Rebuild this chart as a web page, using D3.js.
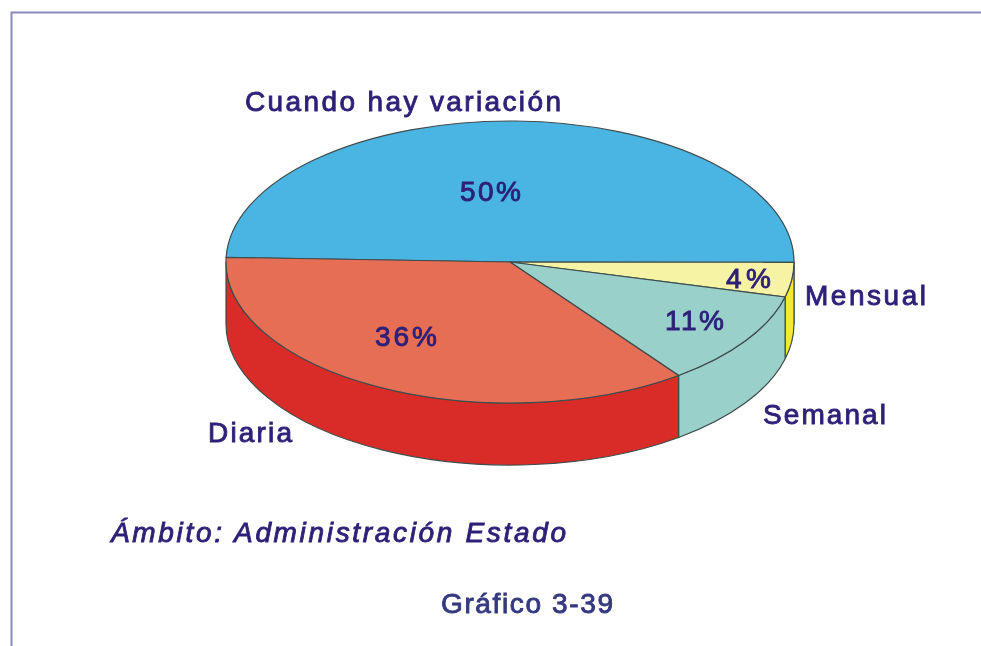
<!DOCTYPE html>
<html>
<head>
<meta charset="utf-8">
<script src="https://cdn.jsdelivr.net/npm/d3@7"></script>
<style>
  html, body { margin: 0; background: #fff; }
  svg { display: block; filter: blur(0.45px); }
  text { font-family: "Liberation Sans", Arial, sans-serif; }
</style>
</head>
<body>
<div id="chart"></div>
<script>
// Values as printed on the slices (they add up to 101)
const categories = ["Cuando hay variación", "Mensual", "Semanal", "Diaria"];
const shares = [50, 4, 11, 36];
const title = "Ámbito: Administración Estado";
const caption = "Gráfico 3-39";

const topColors = ["#4ab4e3", "#f7f3a5", "#99d0ca", "#e66e55"];
const sideColors = ["#3a9cc8", "#f2ea2e", "#99d0ca", "#d92b27"];

const width = 981, height = 646;
const cx = 510, cy = 262, rx = 284, ry = 141, depth = 62;
const ink = "#2e1f78", edge = "#3f4c4c";

// label placement, [x, y, width] of the text as it sits in the picture
const nameSpots = {
  "Cuando hay variación": [245, 111, 316],
  "Mensual": [805, 305, 121],
  "Semanal": [763, 424, 123],
  "Diaria": [208, 442, 84]
};
const shareSpots = {
  "Cuando hay variación": [460, 201, 61],
  "Mensual": [726, 288, 45],
  "Semanal": [665, 330, 59],
  "Diaria": [375, 346, 62]
};

const svg = d3.select("#chart").append("svg")
  .attr("width", width)
  .attr("height", height)
  .attr("viewBox", `0 0 ${width} ${height}`);

// frame, open on the right and at the bottom
svg.append("path")
  .attr("d", `M11.5,${height}V12.5H${width}`)
  .attr("fill", "none")
  .attr("stroke", "#8c8abb")
  .attr("stroke-width", 2);

const pie = d3.pie()
  .sort(null)
  .startAngle(-88.1 * Math.PI / 180)
  .endAngle((-88.1 + 360) * Math.PI / 180);

const slices = pie(shares).map((d, i) => ({ ...d, name: categories[i], i }));

const px = a => cx + rx * Math.sin(a);
const py = (a, dy = 0) => cy + dy - ry * Math.cos(a);

function topPath(d) {
  const large = d.endAngle - d.startAngle > Math.PI ? 1 : 0;
  return `M${cx},${cy}L${px(d.startAngle)},${py(d.startAngle)}` +
    `A${rx},${ry} 0 ${large} 1 ${px(d.endAngle)},${py(d.endAngle)}Z`;
}

// side wall only exists for the front half of the ellipse
function sidePath(d) {
  const front0 = Math.PI / 2, front1 = Math.PI * 3 / 2;
  const a0 = Math.max(d.startAngle, front0);
  const a1 = Math.min(d.endAngle, front1);
  if (a0 >= a1) return null;
  return `M${px(a0)},${py(a0)}A${rx},${ry} 0 0 1 ${px(a1)},${py(a1)}` +
    `L${px(a1)},${py(a1, depth)}A${rx},${ry} 0 0 0 ${px(a0)},${py(a0, depth)}Z`;
}

svg.append("g").selectAll("path")
  .data(slices.filter(d => sidePath(d)))
  .join("path")
  .attr("d", sidePath)
  .attr("fill", d => sideColors[d.i])
  .attr("stroke", edge)
  .attr("stroke-width", 1.2);

svg.append("g").selectAll("path")
  .data(slices)
  .join("path")
  .attr("d", topPath)
  .attr("fill", d => topColors[d.i])
  .attr("stroke", edge)
  .attr("stroke-width", 1.2);

function label(txt, spot, size, color) {
  return svg.append("text")
    .attr("x", spot[0])
    .attr("y", spot[1])
    .attr("textLength", spot[2])
    .attr("lengthAdjust", "spacing")
    .attr("font-size", size)
    .attr("fill", color)
    .attr("stroke", color)
    .attr("stroke-width", 0.9)
    .text(txt);
}

slices.forEach(d => {
  label(d.name, nameSpots[d.name], 28, ink);
  label(`${d.data}%`, shareSpots[d.name], 28, ink);
});

label(title, [111, 542, 455], 28, ink).attr("font-style", "italic");
label(caption, [441, 613, 172], 28, "#35397f");
</script>
</body>
</html>
